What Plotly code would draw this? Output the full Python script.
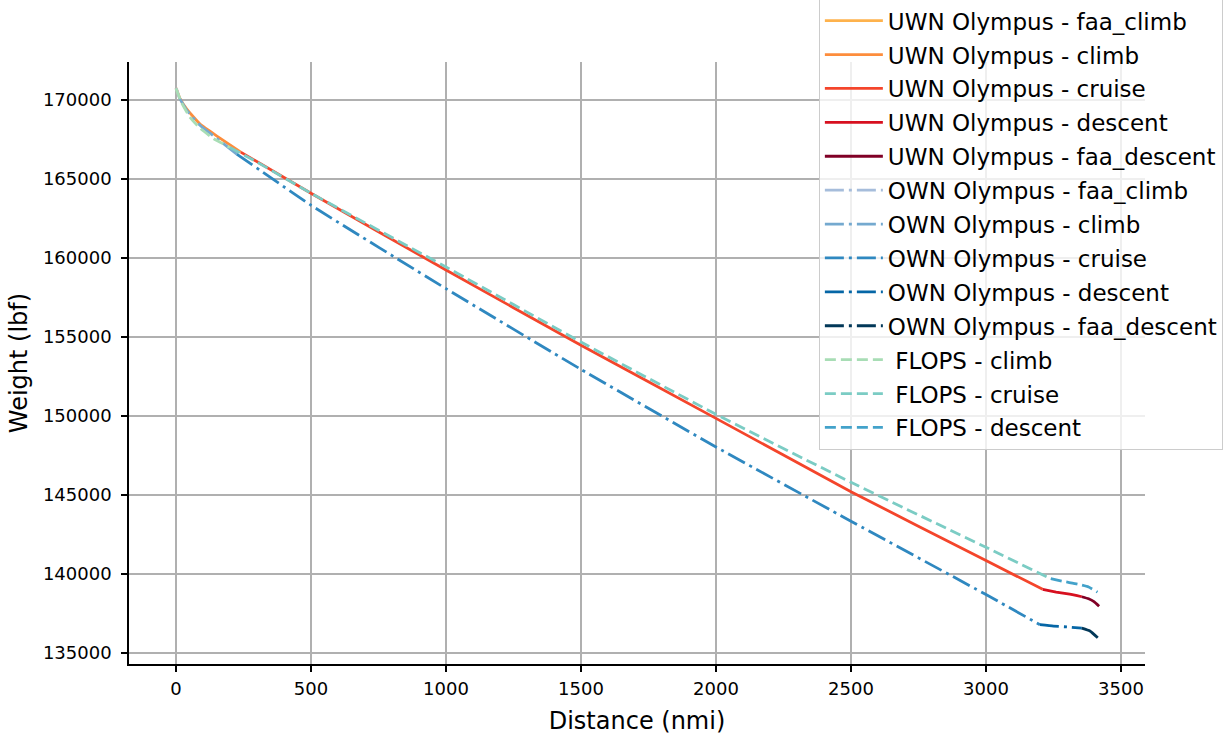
import plotly.graph_objects as go

# ---- Mission weight histories (distance in nmi, weight in lbf) ----
# UWN Olympus
uwn_faa_climb_dist = [0, 3]
uwn_faa_climb_wt = [170760, 170640]
uwn_climb_dist = [3, 15, 40, 90, 160, 240]
uwn_climb_wt = [170640, 170080, 169420, 168460, 167620, 166700]
uwn_cruise_dist = [240, 500, 1000, 1500, 2000, 2500, 3000, 3210]
uwn_cruise_wt = [166700, 164100, 159240, 154480, 149850, 145210, 140850, 139030]
uwn_descent_dist = [3210, 3260, 3310, 3355]
uwn_descent_wt = [139030, 138860, 138720, 138560]
uwn_faa_descent_dist = [3355, 3380, 3400, 3419]
uwn_faa_descent_wt = [138560, 138430, 138250, 137960]

# OWN Olympus
own_faa_climb_dist = [0, 3, 12]
own_faa_climb_wt = [170760, 170640, 170150]
own_climb_dist = [12, 40, 90, 160, 225]
own_climb_wt = [170150, 169350, 168380, 167450, 166580]
own_cruise_dist = [225, 500, 1000, 1500, 2000, 2500, 3000, 3200]
own_cruise_wt = [166580, 163340, 158060, 152950, 148040, 143340, 138700, 136790]
own_descent_dist = [3200, 3250, 3300, 3355]
own_descent_wt = [136790, 136700, 136650, 136570]
own_faa_descent_dist = [3355, 3385, 3415]
own_faa_descent_wt = [136570, 136390, 135950]

# FLOPS
flops_climb_dist = [0, 20, 50, 90, 140, 200]
flops_climb_wt = [170720, 169850, 168950, 168200, 167550, 167000]
flops_cruise_dist = [200, 300, 500, 1000, 1500, 2000, 2500, 3000, 3240]
flops_cruise_wt = [167000, 166070, 164100, 159430, 154680, 150110, 145800, 141690, 139700]
flops_descent_dist = [3240, 3290, 3340, 3380, 3413]
flops_descent_wt = [139700, 139520, 139360, 139180, 138850]

x_ticks = [0, 500, 1000, 1500, 2000, 2500, 3000, 3500]
y_ticks = [135000, 140000, 145000, 150000, 155000, 160000, 165000, 170000]

FONT = "DejaVu Sans"
LW = 2.8
DASHDOT = "19px,5px,3px,5px"
DASHED = "11px,5px"

series = [
    ("UWN Olympus - faa_climb", uwn_faa_climb_dist, uwn_faa_climb_wt, "#feb24c", "solid"),
    ("UWN Olympus - climb", uwn_climb_dist, uwn_climb_wt, "#fd8d3c", "solid"),
    ("UWN Olympus - cruise", uwn_cruise_dist, uwn_cruise_wt, "#f4452b", "solid"),
    ("UWN Olympus - descent", uwn_descent_dist, uwn_descent_wt, "#d7101f", "solid"),
    ("UWN Olympus - faa_descent", uwn_faa_descent_dist, uwn_faa_descent_wt, "#800026", "solid"),
    ("OWN Olympus - faa_climb", own_faa_climb_dist, own_faa_climb_wt, "#a6bddb", DASHDOT),
    ("OWN Olympus - climb", own_climb_dist, own_climb_wt, "#74a9cf", DASHDOT),
    ("OWN Olympus - cruise", own_cruise_dist, own_cruise_wt, "#2f88c0", DASHDOT),
    ("OWN Olympus - descent", own_descent_dist, own_descent_wt, "#0566a6", DASHDOT),
    ("OWN Olympus - faa_descent", own_faa_descent_dist, own_faa_descent_wt, "#023858", DASHDOT),
    ("\u00a0FLOPS - climb", flops_climb_dist, flops_climb_wt, "#a8ddb5", DASHED),
    ("\u00a0FLOPS - cruise", flops_cruise_dist, flops_cruise_wt, "#7bccc4", DASHED),
    ("\u00a0FLOPS - descent", flops_descent_dist, flops_descent_wt, "#43a2ca", DASHED),
]

fig = go.Figure()
for i, (name, xd, yd, color, dash) in enumerate(series):
    fig.add_trace(go.Scatter(
        x=xd, y=yd, mode="lines", name=name, legendgroup=f"g{i}",
        line=dict(color=color, width=LW, dash=dash, shape="spline", smoothing=0.4),
    ))

axis_common = dict(
    showgrid=True, gridcolor="#b0b0b0", gridwidth=1.5,
    showline=True, linecolor="black", linewidth=1.5, mirror=False,
    ticks="outside", ticklen=6, tickwidth=1.5, tickcolor="black",
    tickfont=dict(family=FONT, size=18, color="black"),
    zeroline=False,
)

fig.update_layout(
    width=1223, height=738,
    margin=dict(l=129, r=78, t=62, b=74, autoexpand=False),
    paper_bgcolor="white", plot_bgcolor="white",
    font=dict(family=FONT, color="black"),
    xaxis=dict(
        range=[-174, 3589], tickvals=x_ticks, ticktext=[str(v) for v in x_ticks],
        ticklabelstandoff=2,
        title=dict(text="Distance (nmi)", font=dict(family=FONT, size=24), standoff=14),
        **axis_common,
    ),
    yaxis=dict(
        range=[134304, 172405], tickvals=y_ticks, ticktext=[str(v) for v in y_ticks],
        ticklabelstandoff=6,
        title=dict(text="Weight (lbf)", font=dict(family=FONT, size=24), standoff=9),
        **axis_common,
    ),
    legend=dict(
        x=0.679, y=1.106, xanchor="left", yanchor="top",
        bgcolor="rgba(255,255,255,0.8)", bordercolor="#cccccc", borderwidth=1,
        font=dict(family=FONT, size=23, color="black"),
        itemwidth=58, tracegroupgap=1, maxheight=1.0,
    ),
    showlegend=True,
)

fig.write_html("out.html")
